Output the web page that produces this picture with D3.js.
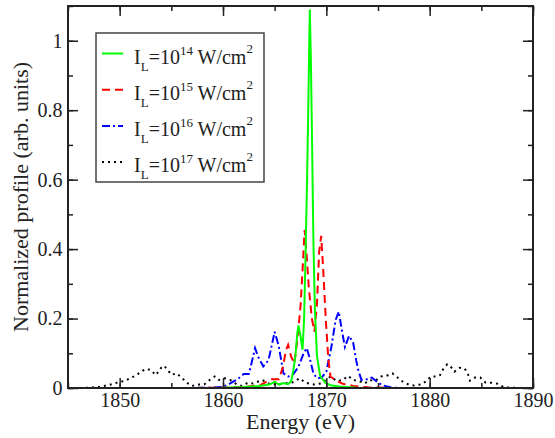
<!DOCTYPE html>
<html>
<head>
<meta charset="utf-8">
<script src="https://cdn.jsdelivr.net/npm/d3@7"></script>
<style>
  body { margin: 0; background: #fff; }
  text { font-family: "Liberation Serif", "Times New Roman", serif; fill: #222; }
</style>
</head>
<body>
<div id="chart"></div>
<script>
// Energy grids (eV) and normalized profiles
const greenE = [1856, 1860, 1862, 1863.5, 1864.5, 1865, 1865.4, 1865.8, 1866.3, 1866.6, 1866.8, 1867, 1867.2, 1867.3, 1867.5, 1867.7, 1867.85, 1868, 1868.15, 1868.3, 1868.4, 1868.5, 1868.6, 1868.75, 1868.9, 1869.1, 1869.4, 1869.9, 1870.4, 1871.3, 1873, 1876, 1880];
const greenI = [0, 0.001, 0.003, 0.006, 0.01, 0.018, 0.01, 0.014, 0.011, 0.02, 0.05, 0.09, 0.16, 0.18, 0.15, 0.11, 0.2, 0.4, 0.62, 0.9, 1.09, 0.95, 0.75, 0.42, 0.22, 0.09, 0.035, 0.015, 0.008, 0.004, 0.001, 0, 0];

const redE = [1856, 1860, 1862, 1863.6, 1864.3, 1864.7, 1865.4, 1865.8, 1866.1, 1866.3, 1866.6, 1866.9, 1867.2, 1867.5, 1867.7, 1867.9, 1868.1, 1868.3, 1868.6, 1868.85, 1869.1, 1869.3, 1869.5, 1869.7, 1869.95, 1870.2, 1870.4, 1870.85, 1871.6, 1872.6, 1874, 1876, 1880];
const redI = [0, 0.001, 0.003, 0.008, 0.02, 0.025, 0.025, 0.06, 0.11, 0.124, 0.09, 0.07, 0.14, 0.235, 0.34, 0.455, 0.38, 0.29, 0.2, 0.162, 0.245, 0.39, 0.438, 0.34, 0.196, 0.08, 0.033, 0.023, 0.012, 0.006, 0.002, 0, 0];

const blueE = [1856, 1859, 1860, 1860.7, 1861.4, 1862, 1862.5, 1862.8, 1863.1, 1863.4, 1863.9, 1864.4, 1864.7, 1865, 1865.4, 1865.85, 1866.3, 1866.8, 1867.3, 1867.8, 1868.1, 1868.4, 1868.75, 1869.1, 1869.55, 1870, 1870.5, 1870.9, 1871.2, 1871.5, 1871.8, 1872.2, 1872.6, 1872.9, 1873.1, 1873.4, 1873.9, 1874.4, 1874.9, 1875.4, 1876.2, 1877, 1880];
const blueI = [0, 0.001, 0.003, 0.013, 0.025, 0.04, 0.04, 0.076, 0.115, 0.09, 0.062, 0.08, 0.12, 0.162, 0.12, 0.042, 0.033, 0.04, 0.061, 0.1, 0.115, 0.085, 0.042, 0.028, 0.03, 0.047, 0.12, 0.196, 0.22, 0.167, 0.118, 0.15, 0.13, 0.078, 0.05, 0.023, 0.025, 0.03, 0.018, 0.008, 0.002, 0, 0];

const blackE = [1845, 1846, 1847, 1848, 1848.5, 1849, 1849.5, 1850, 1850.5, 1851, 1851.5, 1852, 1852.5, 1853, 1853.5, 1854, 1854.3, 1854.7, 1855, 1855.5, 1856, 1856.5, 1857, 1857.5, 1858.2, 1858.7, 1859.2, 1859.6, 1860.2, 1860.7, 1861.3, 1861.8, 1862.4, 1862.9, 1863.8, 1864.5, 1865.3, 1866, 1866.7, 1867.4, 1868, 1868.8, 1869.5, 1870.4, 1871, 1871.6, 1872.1, 1872.6, 1873.2, 1873.7, 1874.2, 1874.7, 1875.3, 1875.8, 1876.4, 1876.9, 1877.4, 1877.9, 1878.5, 1879.1, 1879.7, 1880.1, 1880.6, 1881, 1881.3, 1881.7, 1882, 1882.4, 1882.9, 1883.4, 1883.7, 1883.9, 1884.4, 1884.9, 1885.4, 1886, 1886.6, 1887.2, 1888, 1889, 1890];
const blackI = [0, 0, 0.001, 0.003, 0.006, 0.009, 0.013, 0.018, 0.02, 0.028, 0.035, 0.045, 0.055, 0.052, 0.037, 0.058, 0.064, 0.05, 0.038, 0.042, 0.03, 0.015, 0.006, 0.01, 0.011, 0.023, 0.033, 0.023, 0.028, 0.023, 0.011, 0.006, 0.015, 0.013, 0.023, 0.012, 0.01, 0.013, 0.016, 0.028, 0.015, 0.01, 0.013, 0.033, 0.02, 0.023, 0.035, 0.023, 0.02, 0.013, 0.023, 0.02, 0.033, 0.035, 0.042, 0.03, 0.018, 0.011, 0.007, 0.01, 0.02, 0.033, 0.033, 0.037, 0.054, 0.068, 0.063, 0.047, 0.058, 0.056, 0.04, 0.021, 0.03, 0.03, 0.016, 0.015, 0.012, 0.002, 0.001, 0, 0];

const legendExp = ["14", "15", "16", "17"];
const xTicks = [1850, 1860, 1870, 1880, 1890];
const yTicks = [0, 0.2, 0.4, 0.6, 0.8, 1];

const series = [
  { name: "17", E: blackE, I: blackI, color: "#000000", dash: "2,4" },
  { name: "16", E: blueE, I: blueI, color: "#0000ff", dash: "8,3,2,3" },
  { name: "15", E: redE, I: redI, color: "#ff0000", dash: "8,5" },
  { name: "14", E: greenE, I: greenI, color: "#00ff00", dash: null }
];

const width = 555, height = 438;
const margin = { top: 6, right: 22, bottom: 50, left: 68 };

const x = d3.scaleLinear().domain([1845, 1890]).range([margin.left, width - margin.right]);
const y = d3.scaleLinear().domain([0, 1.1]).range([height - margin.bottom, margin.top]);

const svg = d3.select("#chart")
  .append("svg")
  .attr("width", width)
  .attr("height", height);

const line = d3.line()
  .x(d => x(d[0]))
  .y(d => y(d[1]));

// curves
svg.append("g")
  .selectAll("path")
  .data(series)
  .join("path")
  .attr("fill", "none")
  .attr("stroke", d => d.color)
  .attr("stroke-width", 2)
  .attr("stroke-dasharray", d => d.dash)
  .attr("d", d => line(d.E.map((e, i) => [e, d.I[i]])));

// ticks on all four sides, pointing in
const xMinor = d3.range(1845, 1891, 5);
const yMinor = d3.range(0, 1.11, 0.1);

function tickStyle(g) {
  g.select(".domain").remove();
  g.selectAll("line").attr("stroke", "#222").attr("stroke-width", 1.5);
}

const pBottom = height - margin.bottom, pLeft = margin.left,
  pRight = width - margin.right, pTop = margin.top;

svg.append("g").attr("transform", `translate(0,${pBottom})`)
  .call(d3.axisBottom(x).tickValues(xMinor).tickSize(-5).tickFormat("")).call(tickStyle);
svg.append("g").attr("transform", `translate(0,${pBottom})`)
  .call(d3.axisBottom(x).tickValues(xTicks).tickSize(-10).tickPadding(5).tickFormat(d3.format("d")))
  .call(tickStyle)
  .call(g => g.selectAll("text").attr("font-size", 20).attr("fill", "#222")
    .attr("font-family", "Liberation Serif"));
svg.append("g").attr("transform", `translate(0,${pTop})`)
  .call(d3.axisTop(x).tickValues(xMinor).tickSize(-5).tickFormat("")).call(tickStyle);
svg.append("g").attr("transform", `translate(0,${pTop})`)
  .call(d3.axisTop(x).tickValues(xTicks).tickSize(-10).tickFormat("")).call(tickStyle);

svg.append("g").attr("transform", `translate(${pLeft},0)`)
  .call(d3.axisLeft(y).tickValues(yMinor).tickSize(-5).tickFormat("")).call(tickStyle);
svg.append("g").attr("transform", `translate(${pLeft},0)`)
  .call(d3.axisLeft(y).tickValues(yTicks).tickSize(-10).tickPadding(5.5).tickFormat(d3.format("")))
  .call(tickStyle)
  .call(g => g.selectAll("text").attr("font-size", 20).attr("fill", "#222")
    .attr("font-family", "Liberation Serif"));
svg.append("g").attr("transform", `translate(${pRight},0)`)
  .call(d3.axisRight(y).tickValues(yMinor).tickSize(-5).tickFormat("")).call(tickStyle);
svg.append("g").attr("transform", `translate(${pRight},0)`)
  .call(d3.axisRight(y).tickValues(yTicks).tickSize(-10).tickFormat("")).call(tickStyle);

// frame
svg.append("rect")
  .attr("x", pLeft).attr("y", pTop)
  .attr("width", pRight - pLeft).attr("height", pBottom - pTop)
  .attr("fill", "none").attr("stroke", "#222").attr("stroke-width", 2);

// axis titles
svg.append("text")
  .attr("x", (pLeft + pRight) / 2).attr("y", 429)
  .attr("text-anchor", "middle").attr("font-size", 22)
  .text("Energy (eV)");
svg.append("text")
  .attr("transform", `translate(28,${(pTop + pBottom) / 2}) rotate(-90)`)
  .attr("text-anchor", "middle").attr("font-size", 22)
  .text("Normalized profile (arb. units)");

// legend
const legend = svg.append("g");
legend.append("rect")
  .attr("x", 96).attr("y", 33).attr("width", 168).attr("height", 149)
  .attr("fill", "#fff").attr("stroke", "#444").attr("stroke-width", 1.5);

const legendItems = legendExp.map(e => series.find(s => s.name === e));
const rows = legend.selectAll("g.row")
  .data(legendItems)
  .join("g")
  .attr("class", "row")
  .attr("transform", (d, i) => `translate(0,${53.5 + i * 36.2})`);

rows.append("line")
  .attr("x1", 102).attr("x2", 123)
  .attr("stroke", d => d.color).attr("stroke-width", 2)
  .attr("stroke-dasharray", d => d.dash);

const lt = rows.append("text")
  .attr("x", 134).attr("y", 10)
  .attr("font-size", 20);
lt.append("tspan").text("I");
lt.append("tspan").attr("font-size", 13).attr("dy", 7).text("L");
lt.append("tspan").attr("dy", -7).text("=10");
lt.append("tspan").attr("font-size", 13).attr("dy", -9).text(d => d.name);
lt.append("tspan").attr("dy", 9).text(" W/cm");
lt.append("tspan").attr("font-size", 13).attr("dy", -11).text("2");
</script>
</body>
</html>
